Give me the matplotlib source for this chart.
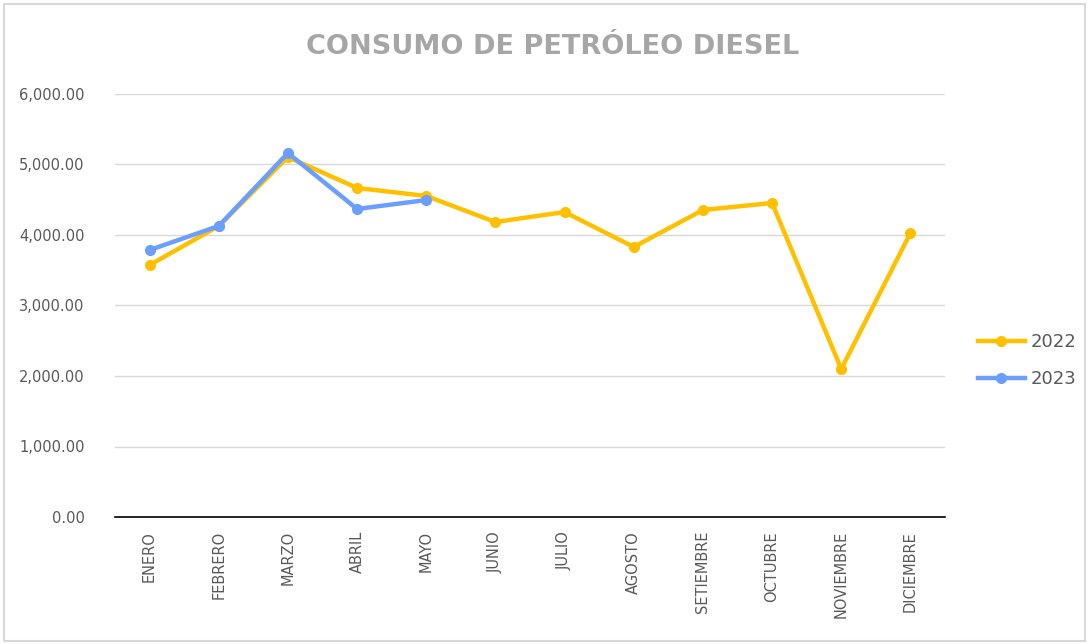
import matplotlib
matplotlib.use('Agg')
import matplotlib.pyplot as plt
from matplotlib.ticker import FuncFormatter

meses = ["ENERO", "FEBRERO", "MARZO", "ABRIL", "MAYO", "JUNIO", "JULIO",
         "AGOSTO", "SETIEMBRE", "OCTUBRE", "NOVIEMBRE", "DICIEMBRE"]
consumo_2022 = [3574, 4128, 5106, 4667, 4553, 4184, 4326, 3830, 4355, 4454, 2099, 4028]
consumo_2023 = [3787, 4128, 5163, 4369, 4496]

plt.rcParams['font.family'] = ['DejaVu Sans']

fig = plt.figure(figsize=(10.89, 6.44), dpi=100)
ax = fig.add_axes([115/1089, 127/644, 830/1089, 423/644])

ax.plot(range(len(consumo_2022)), consumo_2022, color='#FFC000', lw=3.2,
        marker='o', ms=7, label='2022')
ax.plot(range(len(consumo_2023)), consumo_2023, color='#6A9EFF', lw=3.2,
        marker='o', ms=7, label='2023')

ax.set_xlim(-0.5, 11.5)
ax.set_ylim(0, 6000)
ax.set_yticks(range(0, 6001, 1000))
ax.yaxis.set_major_formatter(FuncFormatter(lambda v, p: '{:,.2f}'.format(v)))
ax.set_xticks(range(len(meses)))
ax.set_xticklabels(meses, rotation=90)
ax.tick_params(axis='both', length=0, colors='#595959', labelsize=10.5, pad=10)
ax.tick_params(axis='y', pad=22)
ax.grid(axis='y', color='#D9D9D9', lw=1)
ax.set_axisbelow(True)
for s in ['top', 'right', 'left']:
    ax.spines[s].set_visible(False)
ax.spines['bottom'].set_color('#000000')
ax.spines['bottom'].set_linewidth(1.2)

fig.text(553/1089, 1 - 47/644, 'CONSUMO DE PETRÓLEO DIESEL', ha='center', va='center',
         fontsize=19.5, fontweight='bold', color='#A6A6A6')

ax.legend(loc='center left', bbox_to_anchor=(1.02, 0.37), frameon=False,
          fontsize=13, labelcolor='#595959', handlelength=2.6, handletextpad=0.3,
          labelspacing=1.05)

fig.patches.append(plt.Rectangle((0.004, 0.004), 0.992, 0.99, transform=fig.transFigure,
                                 fill=False, edgecolor='#D9D9D9', lw=1.5))

plt.savefig('out.png')
